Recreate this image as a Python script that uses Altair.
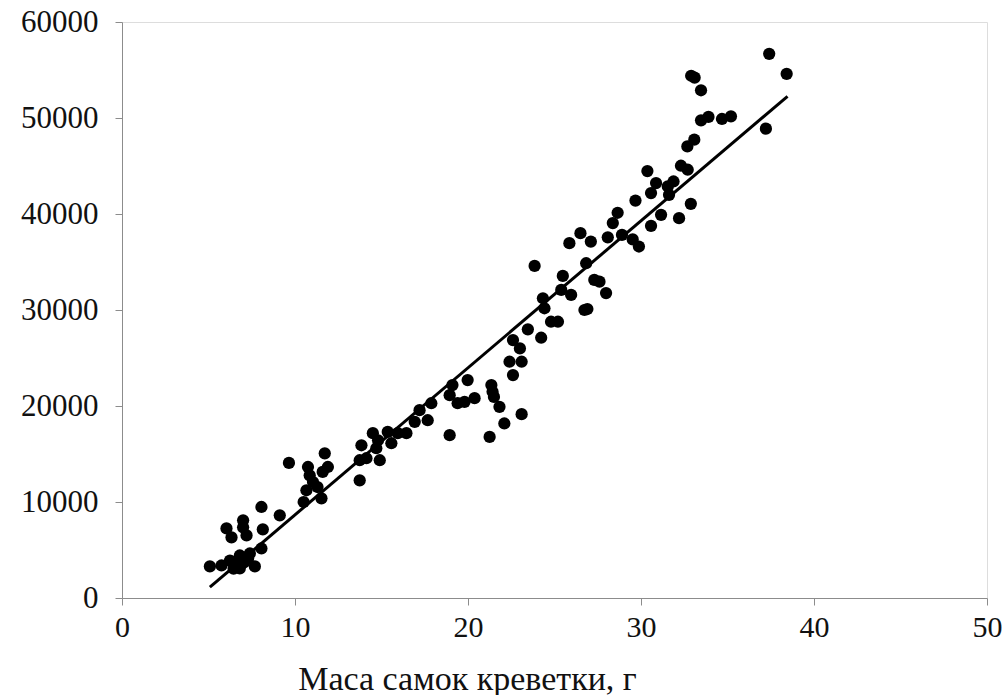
import altair as alt
import pandas as pd

# Scatter points: shrimp female mass (g) vs value
mass = [5.08, 5.75, 6.24, 6.62, 6.81, 6.81, 7.29, 7.39, 7.68, 8.06, 6.45, 7.05,
        6.04, 6.33, 7.0, 7.0, 7.2, 8.06, 8.14, 9.12, 9.65,
        10.5, 10.66, 10.75, 10.85, 11.04, 11.3, 11.53, 11.6, 11.72, 11.9,
        13.74, 13.84, 13.74, 14.13, 14.5, 14.9, 14.7, 14.8, 15.36, 15.57, 15.94, 16.44, 16.92, 17.2, 17.67, 17.88,
        18.94, 18.94, 19.1, 19.4, 19.8, 19.98, 20.38, 21.25, 21.35, 21.42, 21.5, 21.82, 22.1, 23.1,
        22.6, 23.0, 22.4, 23.1, 22.6, 23.46, 24.23, 24.8, 25.2, 24.33, 24.42, 23.85, 25.48, 25.39, 25.96,
        26.73, 26.9, 26.83, 25.86, 26.5, 27.1, 27.3, 27.6, 27.98, 28.08,
        28.37, 28.65, 28.9, 29.52, 29.88, 29.68, 30.58, 30.58, 30.37, 30.87, 31.16, 31.55, 31.62, 31.88,
        32.2, 32.31, 32.7, 32.88, 32.68, 33.08, 32.9, 33.1, 33.47, 33.47, 33.9, 34.68, 35.2,
        37.22, 37.41, 38.42]
value = [3290, 3390, 3900, 3600, 3080, 4430, 4120, 4640, 3290, 5160, 3050, 3700,
         7250, 6310, 8090, 7360, 6520, 9480, 7150, 8610, 14070,
         10000, 11220, 13650, 12780, 12080, 11560, 10380, 13130, 15070, 13650,
         12260, 15910, 14350, 14560, 17170, 14350, 15600, 16430, 17300, 16120, 17170, 17170, 18350, 19570, 18520, 20290,
         16960, 21130, 22180, 20290, 20430, 22700, 20820, 16780, 22180, 21480, 20950, 19910, 18180, 19150,
         26870, 26000, 24610, 24610, 23220, 27990, 27110, 28780, 28780, 31220, 30180, 34590, 33550, 32090, 31570,
         30000, 30100, 34870, 36960, 38000, 37130, 33130, 32950, 31760, 37570,
         39050, 40130, 37830, 37350, 36610, 41400, 38770, 42180, 44470, 43220, 39910, 42870, 42000, 43390,
         39570, 45030, 44610, 41060, 47040, 47740, 54400, 54200, 52890, 49760, 50110, 49900, 50170,
         48890, 56680, 54600]

# Linear trend line endpoints
trend_x = [5.08, 38.47]
trend_y = [1130, 52260]

x_ticks = [0, 10, 20, 30, 40, 50]
y_ticks = [0, 10000, 20000, 30000, 40000, 50000, 60000]

pts = pd.DataFrame({"x": mass, "y": value})
trend = pd.DataFrame({"x": trend_x, "y": trend_y})

FONT = "Liberation Serif"
AX = "#8c8c8c"

xscale = alt.Scale(domain=[0, 50], nice=False, zero=False)
yscale = alt.Scale(domain=[0, 60000], nice=False)

xaxis = alt.Axis(values=x_ticks, grid=False, domainColor=AX, tickColor=AX, tickSize=7,
                 labelFont=FONT, labelFontSize=30, labelColor="#111", labelPadding=7,
                 title="Маса самок креветки, г", titleFont=FONT, titleFontSize=34,
                 titleFontWeight="normal", titleColor="#111",
                 titleX=345, titleY=91, titleAlign="center", titleBaseline="alphabetic",
                 labelFlush=False, format="d")
yaxis = alt.Axis(values=y_ticks, grid=False, domainColor=AX, tickColor=AX, tickSize=7,
                 labelFont=FONT, labelFontSize=31, labelColor="#111", labelPadding=17,
                 title=None, format="d", labelFlush=False)

points = alt.Chart(pts).mark_circle(size=150, color="black", opacity=1).encode(
    x=alt.X("x:Q", scale=xscale, axis=xaxis),
    y=alt.Y("y:Q", scale=yscale, axis=yaxis),
)
line = alt.Chart(trend).mark_line(color="black", strokeWidth=3).encode(
    x=alt.X("x:Q", scale=xscale),
    y=alt.Y("y:Q", scale=yscale),
)

chart = (points + line).properties(
    width=865, height=576,
    padding={"left": 122, "top": 22, "right": 17, "bottom": 97},
    autosize=alt.AutoSizeParams(type="none"),
).configure_view(stroke=None).configure(background="white")

chart.save("out.html", embed_options={"renderer": "svg", "actions": False})
